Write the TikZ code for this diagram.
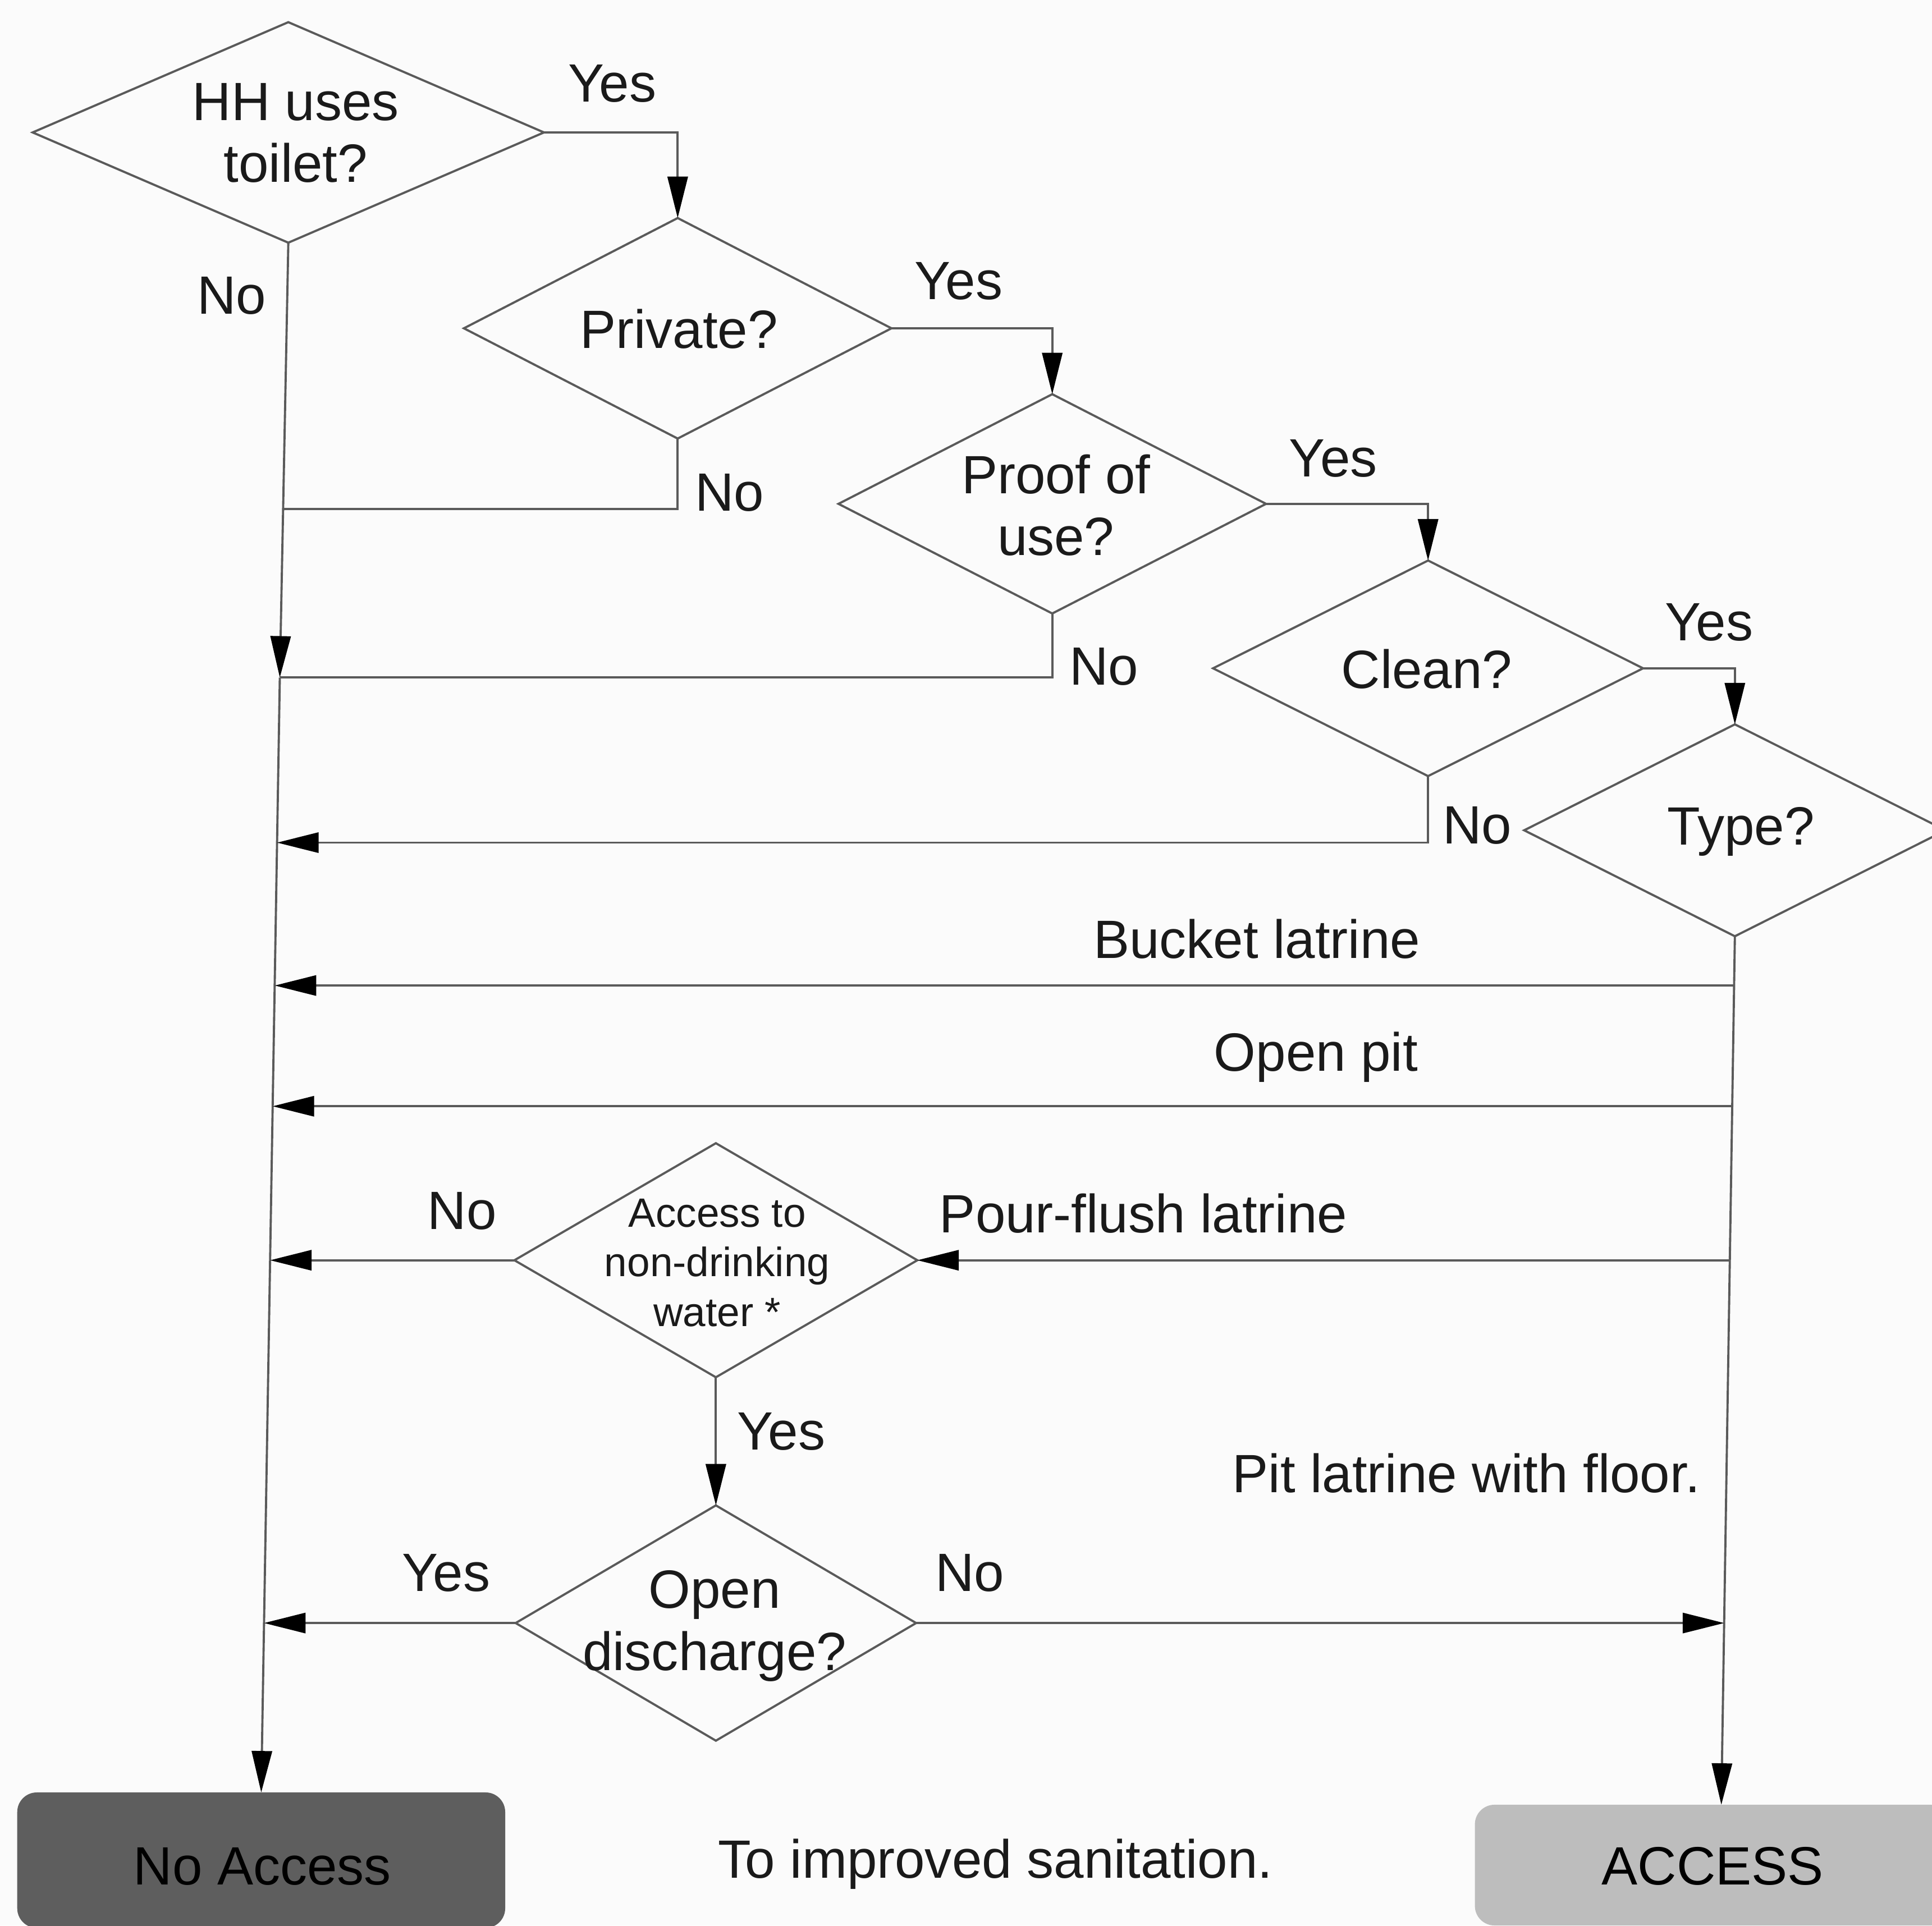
\documentclass[tikz,border=0pt]{standalone}
\usepackage{fontspec}
\setmainfont{Liberation Sans}
\usetikzlibrary{shapes.geometric,arrows.meta,calc}
\definecolor{linec}{HTML}{5A5A5A}
\definecolor{txtc}{HTML}{1A1A1A}
\definecolor{bgc}{HTML}{FBFBFB}
\definecolor{nafill}{HTML}{5E5E5E}
\definecolor{acfill}{HTML}{BDBDBD}
\newcommand\pu{0.022cm}
\begin{document}
\begin{tikzpicture}[x=0.022cm,y=-0.022cm,
  dia/.style={draw=linec, line width=1.1pt, shape=diamond, inner sep=0pt, outer sep=0pt},
  conn/.style={draw=linec, line width=1.1pt},
  arr/.style={conn, -{Triangle[length=0.74cm,width=0.36cm,black]}},
  lbl/.style={text=txtc, font=\fontsize{27.4}{30}\selectfont, inner sep=0pt},
  dtext/.style={lbl, align=center, font=\fontsize{27.4}{31.5}\selectfont},
  stext/.style={text=txtc, inner sep=0pt, align=center, font=\fontsize{20.8}{25.3}\selectfont},
  endbox/.style={draw=none, rounded corners=0.35cm, inner sep=0pt, outer sep=0pt, text=black, font=\fontsize{27.4}{30}\selectfont}]
\path[fill=bgc] (0,0) rectangle (1568,1563);
\useasboundingbox (0,0) rectangle (1568,1563);

% diamonds
\node[dia, minimum width=415*\pu, minimum height=179*\pu] (A) at (234,107.5) {};
\node[dtext] (At) at (240,108) {HH uses\\toilet?};
\node[dia, minimum width=347*\pu, minimum height=179*\pu] (B) at (550,266.5) {};
\node[dtext] (Bt) at (551,267) {Private?};
\node[dia, minimum width=347*\pu, minimum height=178*\pu] (C) at (854,409) {};
\node[dtext] (Ct) at (857,410) {Proof of\\use?};
\node[dia, minimum width=349*\pu, minimum height=175*\pu] (D) at (1159,542.5) {};
\node[dtext] (Dt) at (1158,543) {Clean?};
\node[dia, minimum width=342*\pu, minimum height=172*\pu] (E) at (1408,674) {};
\node[dtext] (Et) at (1413,675) {Type?};
\node[dia, minimum width=327*\pu, minimum height=190*\pu] (F) at (581,1023) {};
\node[stext] (Ft) at (582,1025) {Access to\\non-drinking\\water *};
\node[dia, minimum width=325*\pu, minimum height=191*\pu] (G) at (581,1317.5) {};
\node[dtext] (Gt) at (580,1320) {Open\\discharge?};

% end boxes
\node[endbox, fill=nafill, minimum width=396*\pu, minimum height=110*\pu] (NA) at (212,1510) {};
\node[lbl, text=black] (NAt) at (213,1515) {No Access};
\node[endbox, fill=acfill, minimum width=386*\pu, minimum height=98*\pu] (AC) at (1390,1514) {};
\node[lbl, text=black] (ACt) at (1390,1515) {ACCESS};

% trunk coordinates
\coordinate (L2) at (229.4,413);
\coordinate (L3) at (227.1,550);
\coordinate (L4) at (224.9,684);
\coordinate (L5) at (223.0,800);
\coordinate (L6) at (221.3,898);
\coordinate (L7) at (219.2,1023);
\coordinate (L8) at (214.3,1317.5);
\coordinate (R1) at (1407.4,800);
\coordinate (R2) at (1405.8,898);
\coordinate (R3) at (1403.9,1023);
\coordinate (R4) at (1399.3,1317.5);
\coordinate (ACtop) at ($(AC.north)+(7,0)$);

% yes chain
\draw[arr] (A.east) -| (B.north);
\draw[arr] (B.east) -| (C.north);
\draw[arr] (C.east) -| (D.north);
\draw[arr] (D.east) -| (E.north);

% left trunk
\draw[arr] (A.south) -- (L3);
\draw[arr] (L3) -- (NA.north);
\draw[conn] (B.south) |- (L2);
\draw[conn] (C.south) |- (L3);
\draw[arr] (D.south) |- (L4);

% right trunk
\draw[arr] (E.south) -- (ACtop);
\draw[arr] (R1) -- (L5);
\draw[arr] (R2) -- (L6);
\draw[arr] (R3) -- (F.east);
\draw[arr] (F.west) -- (L7);
\draw[arr] (F.south) -- (G.north);
\draw[arr] (G.west) -- (L8);
\draw[arr] (G.east) -- (R4);

% labels
\node[lbl] (y1) at (497,68) {Yes};
\node[lbl] (n1) at (188,240) {No};
\node[lbl] (y2) at (778,228) {Yes};
\node[lbl] (n2) at (592,400) {No};
\node[lbl] (y3) at (1082,372) {Yes};
\node[lbl] (n3) at (896,541) {No};
\node[lbl] (y4) at (1387,505) {Yes};
\node[lbl] (n4) at (1199,670) {No};
\node[lbl] (bl) at (1020,762) {Bucket latrine};
\node[lbl] (op) at (1068,858) {Open pit};
\node[lbl] (pf) at (928,985) {Pour-flush latrine};
\node[lbl] (n5) at (375,983) {No};
\node[lbl] (y5) at (634,1162) {Yes};
\node[lbl] (pl) at (1190,1196) {Pit latrine with floor.};
\node[lbl] (y6) at (362,1277) {Yes};
\node[lbl] (n6) at (787,1277) {No};
\node[lbl] (ti) at (808,1513) {To improved sanitation.};
\end{tikzpicture}
\end{document}
